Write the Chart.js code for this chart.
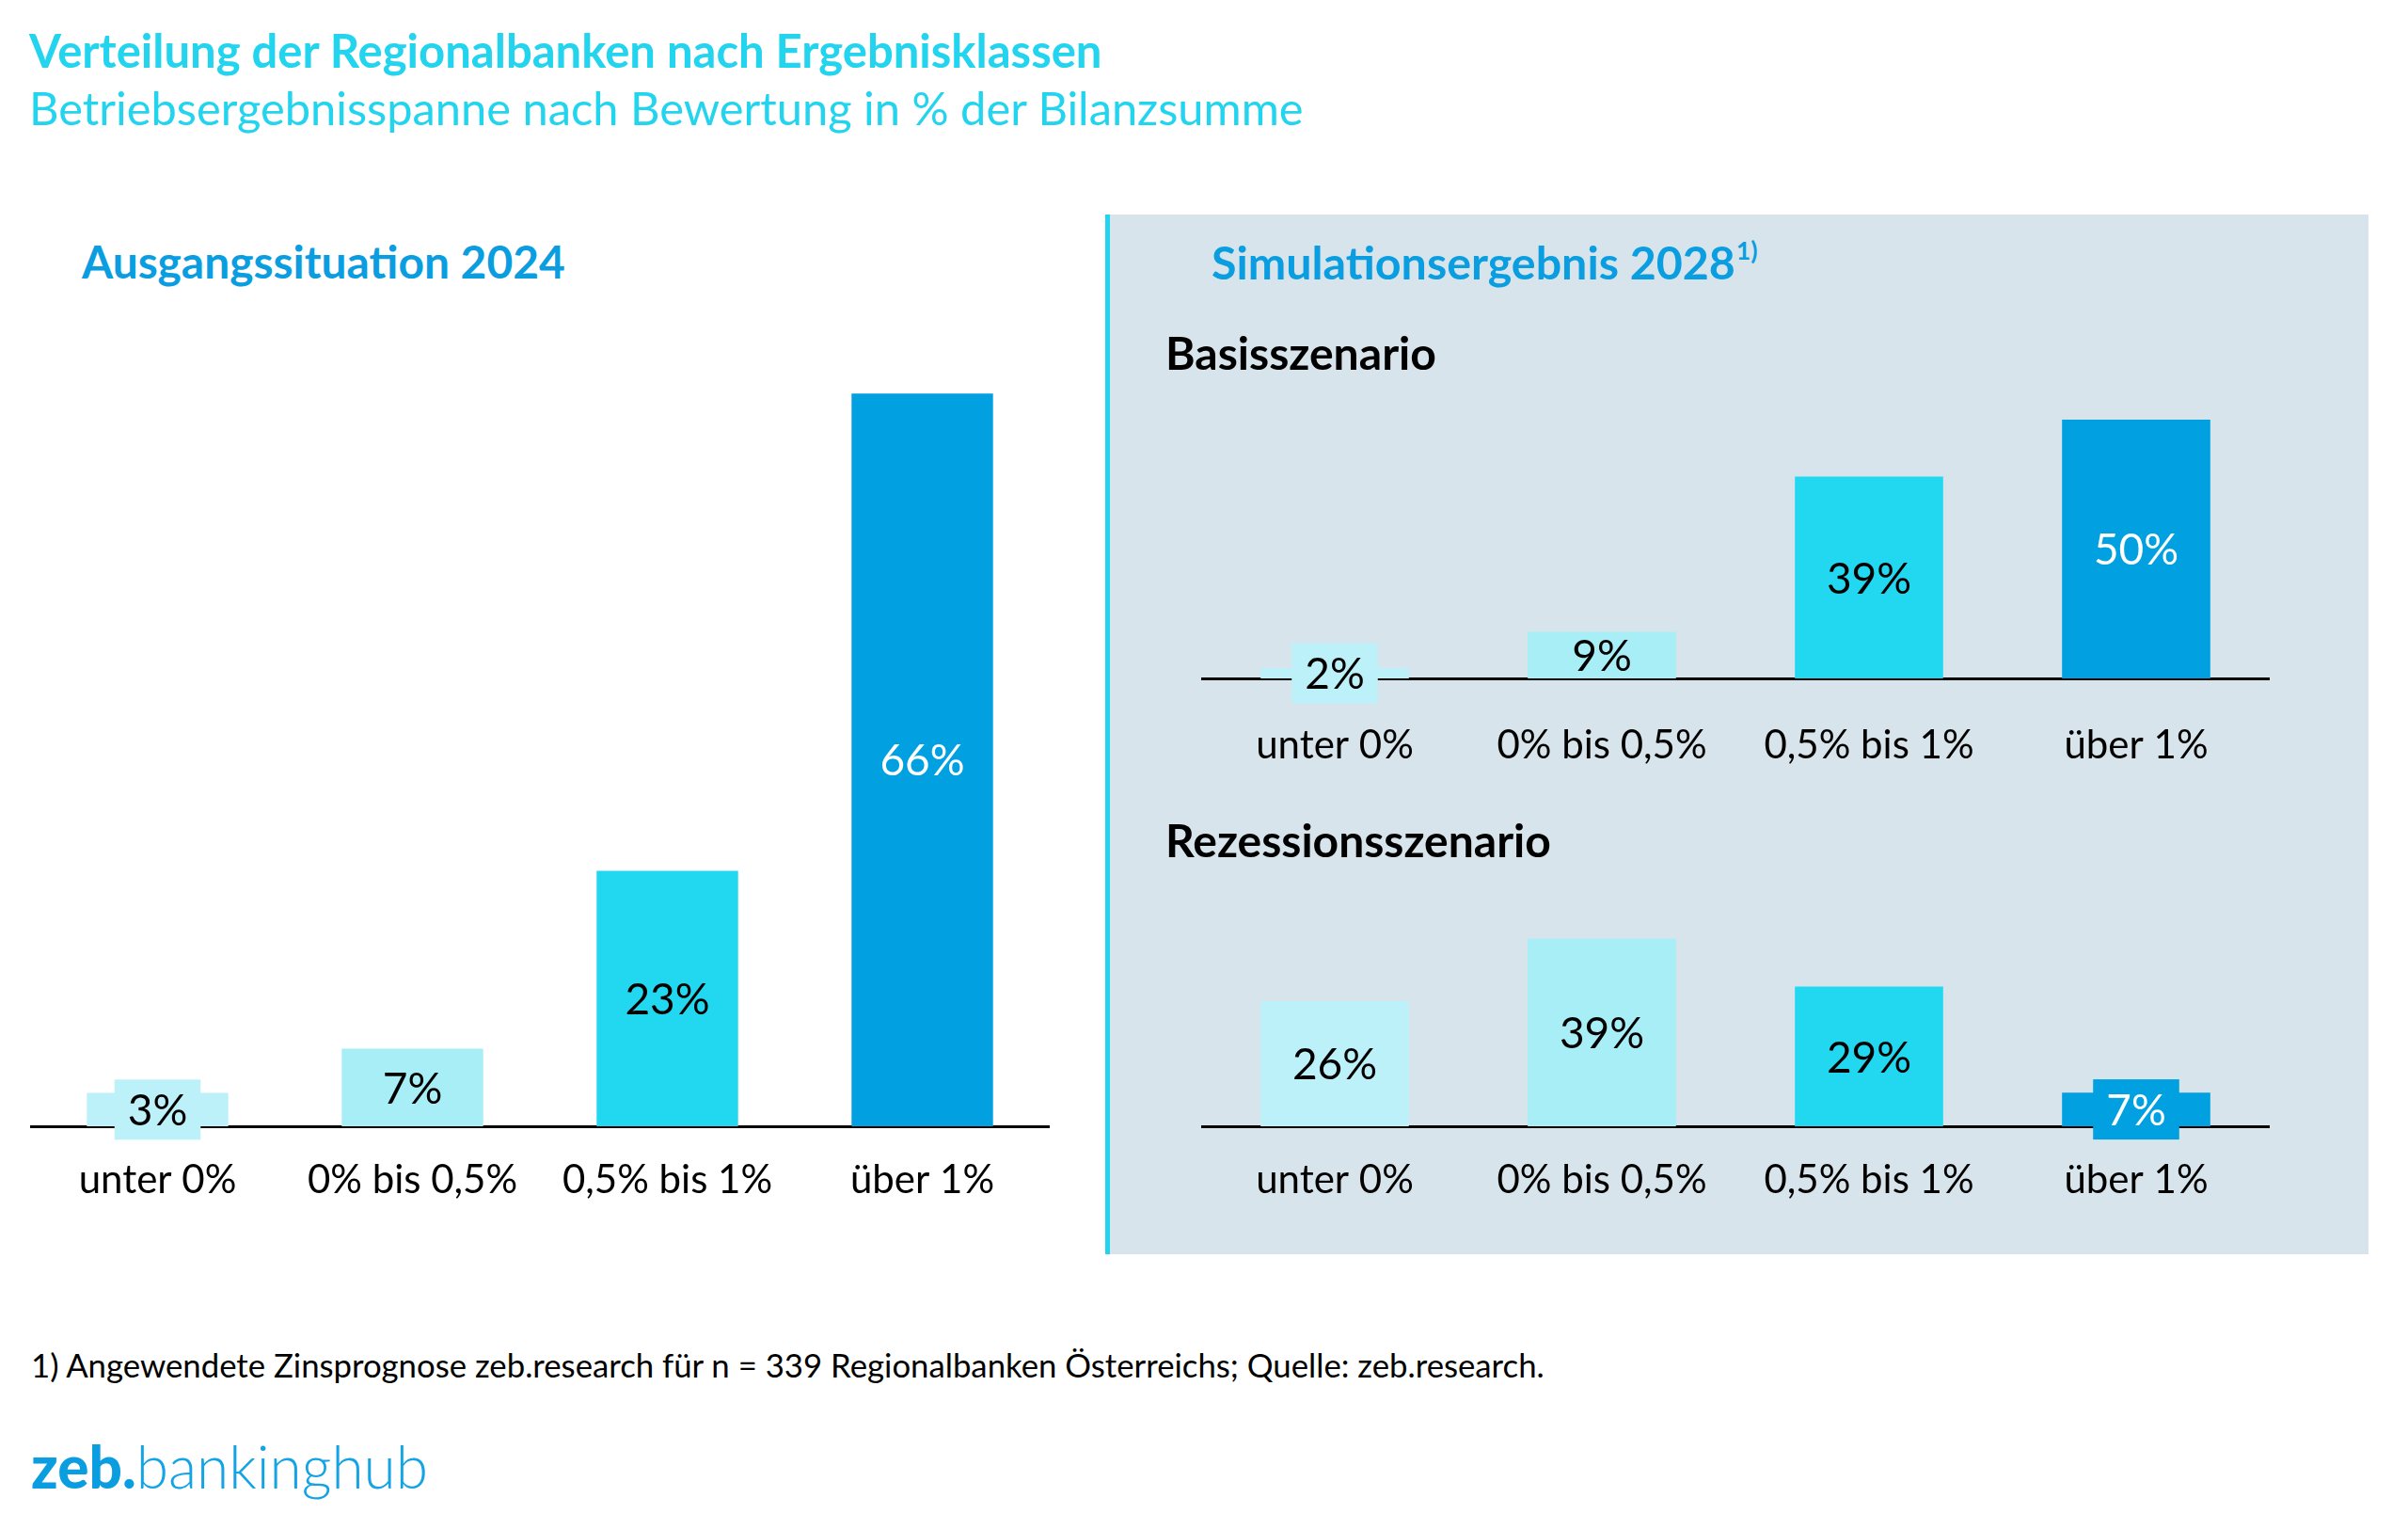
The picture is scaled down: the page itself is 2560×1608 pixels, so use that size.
<!DOCTYPE html>
<html><head><meta charset="utf-8">
<script src="https://cdn.jsdelivr.net/npm/chart.js@4.4.1/dist/chart.umd.min.js"></script>
<style>
html,body{margin:0;padding:0;background:#fff;}
body{width:2560px;height:1608px;position:relative;overflow:hidden;font-family:Lato,"Open Sans",sans-serif;}
.t{position:absolute;white-space:nowrap;line-height:1;}
canvas{position:absolute;}
#panel{position:absolute;left:1180px;top:228px;width:1338px;height:1105px;background:#D8E4EC;}
#pline{position:absolute;left:1175px;top:228px;width:5px;height:1105px;background:#22D4EE;}
</style></head><body>
<div id="panel"></div><div id="pline"></div>
<div class="t" id="title1" style="color:#22D4EE;font-weight:700">Verteilung der Regionalbanken nach Ergebnisklassen</div>
<div class="t" id="title2" style="color:#22D4EE;font-weight:400">Betriebsergebnisspanne nach Bewertung in % der Bilanzsumme</div>
<div class="t" id="h1" style="color:#0A9EE0;font-weight:700">Ausgangssituation 2024</div>
<div class="t" id="h2" style="color:#0A9EE0;font-weight:700">Simulationsergebnis 2028</div>
<div class="t" id="h2sup" style="color:#0A9EE0;font-weight:700">1)</div>
<div class="t" id="h3" style="color:#000;font-weight:700">Basisszenario</div>
<div class="t" id="h4" style="color:#000;font-weight:700">Rezessionsszenario</div>
<div class="t" id="foot" style="color:#000;font-weight:400">1) Angewendete Zinsprognose zeb.research für n = 339 Regionalbanken Österreichs; Quelle: zeb.research.</div>
<div class="t" id="logo"><span style="color:#0A9EE0;font-weight:900">zeb.</span><span style="color:#14A3E4;font-weight:300">bankinghub</span></div>
<canvas id="cLeft"></canvas>
<canvas id="cBasis"></canvas>
<canvas id="cRez"></canvas>
<script>
// ---- data ----
const categories = ['unter 0%', '0% bis 0,5%', '0,5% bis 1%', 'über 1%'];
const valuesAusgang2024 = [3, 7, 23, 66];
const valuesBasis2028 = [2, 9, 39, 50];
const valuesRezession2028 = [26, 39, 29, 7];
const barColors = ['#BCF1F9', '#A7EEF7', '#22D8F0', '#00A0E1'];
const valueLabelColors = ['#000000', '#000000', '#000000', '#FFFFFF'];

// ---- text placement ----
function place(id, left, baseline, width) {
  const el = document.getElementById(id);
  el.style.fontSize = '100px';
  const w = el.getBoundingClientRect().width;
  const size = 100 * width / w;
  el.style.fontSize = size + 'px';
  el.style.left = left + 'px';
  el.style.top = (baseline - 0.887 * size) + 'px';
  return {el, size};
}
place('title1', 31, 72, 1141);
place('title2', 31, 133, 1355);
place('h1', 87, 297, 514);
const h2 = place('h2', 1288, 297, 557);
place('h3', 1239, 394, 288);
place('h4', 1239, 912, 410);
place('foot', 33, 1465, 1609);
place('logo', 33, 1582, 422);
const sup = document.getElementById('h2sup');
const supSize = h2.size * 0.55;
sup.style.fontSize = supSize + 'px';
sup.style.left = (1288 + h2.el.getBoundingClientRect().width + 1) + 'px';
sup.style.top = (297 - h2.size * 0.42 - 0.887 * supSize) + 'px';

// ---- value label plugin ----
const valueLabels = {
  id: 'valueLabels',
  afterDatasetsDraw(chart) {
    const ctx = chart.ctx;
    const meta = chart.getDatasetMeta(0);
    const ds = chart.data.datasets[0];
    ctx.save();
    ctx.font = '46px Lato, "Open Sans", sans-serif';
    ctx.textAlign = 'center';
    ctx.textBaseline = 'middle';
    meta.data.forEach((bar, i) => {
      const txt = ds.data[i] + '%';
      const cy = (bar.y + bar.base) / 2;
      const tw = ctx.measureText(txt).width;
      const bw = tw + 28, bh = 64;
      // background box only where the bar is too short to hold the label
      if (Math.abs(bar.base - bar.y) < 45) {
        ctx.fillStyle = ds.backgroundColor[i];
        ctx.fillRect(bar.x - bw / 2, cy - bh / 2, bw, bh);
      }
      ctx.fillStyle = valueLabelColors[i];
      ctx.fillText(txt, bar.x, cy + 2);
    });
    ctx.restore();
  }
};

function makeChart(id, left, top, width, areaH, maxY, values, tickPad) {
  const cv = document.getElementById(id);
  cv.width = width; cv.height = areaH + 100;
  cv.style.left = left + 'px'; cv.style.top = top + 'px';
  cv.style.width = width + 'px'; cv.style.height = (areaH + 100) + 'px';
  return new Chart(cv, {
    type: 'bar',
    data: {
      labels: categories,
      datasets: [{
        data: values,
        backgroundColor: barColors,
        borderWidth: 0,
        barPercentage: 1,
        categoryPercentage: 0.555
      }]
    },
    options: {
      responsive: false,
      animation: false,
      devicePixelRatio: 1,
      layout: { padding: 0 },
      plugins: { legend: { display: false }, tooltip: { enabled: false } },
      scales: {
        x: {
          grid: { display: false, drawTicks: false, tickLength: 0 },
          border: { display: true, color: '#000000', width: 3 },
          ticks: { color: '#000000', padding: tickPad, font: { family: 'Lato', size: 42 } },
          afterFit(s) { s.height = 100; }
        },
        y: { display: false, min: 0, max: maxY }
      }
    },
    plugins: [valueLabels]
  });
}

makeChart('cLeft', 32, 371, 1084, 826, 70, valuesAusgang2024, 32);
makeChart('cBasis', 1277, 391, 1136, 330, 60, valuesBasis2028, 46);
makeChart('cRez', 1277, 890, 1136, 307, 60, valuesRezession2028, 32);
</script>
</body></html>
